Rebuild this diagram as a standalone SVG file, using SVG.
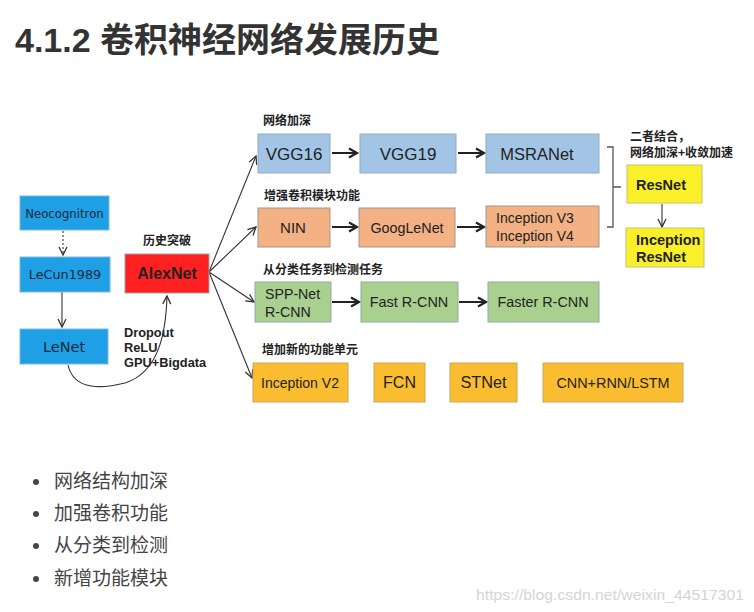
<svg xmlns="http://www.w3.org/2000/svg" width="754" height="612" viewBox="0 0 754 612">
<defs>
<marker id="v" markerUnits="userSpaceOnUse" markerWidth="12" markerHeight="12" refX="9" refY="5" orient="auto">
<path d="M1,1 L9,5 L1,9" fill="none" stroke="#333" stroke-width="1.3"/>
</marker>
<marker id="vb" markerUnits="userSpaceOnUse" markerWidth="14" markerHeight="14" refX="10" refY="6" orient="auto">
<path d="M2,1.5 L10,6 L2,10.5" fill="none" stroke="#222" stroke-width="2.2"/>
</marker>
</defs>
<style>
.lat{font-family:"Liberation Sans",Arial,sans-serif;fill:#222;text-anchor:middle}
.st{text-anchor:start}
.dv{font-family:"DejaVu Sans",Verdana,sans-serif;fill:#1a2a3a;text-anchor:middle}
.cjk{font-family:"Noto Sans CJK SC",sans-serif;font-weight:bold;font-size:12px;fill:#222}
.blue{fill:#1f9fe6;stroke:#7fb8dc;stroke-width:1}
.red{fill:#ff2121;stroke:#a0a0a0;stroke-width:1}
.r1{fill:#a2c5e6;stroke:#93a9c0;stroke-width:1}
.r2{fill:#f4b183;stroke:#a09890;stroke-width:1}
.r3{fill:#a9d08f;stroke:#95a8a8;stroke-width:1}
.r4{fill:#fbbd30;stroke:#c8a860;stroke-width:1}
.yl{fill:#f9f02a;stroke:#c8c070;stroke-width:1}
.thin{fill:none;stroke:#333;stroke-width:1.1}
.thick{fill:none;stroke:#222;stroke-width:2}
.bul{font-family:"Noto Sans CJK SC",sans-serif;font-size:19px;fill:#444}
</style>
<rect width="754" height="612" fill="#ffffff"/>
<text x="15" y="52" font-family="Liberation Sans,'Noto Sans CJK SC',sans-serif" font-weight="bold" font-size="34" fill="#333">4.1.2 <tspan font-family="Noto Sans CJK SC,sans-serif">卷积神经网络发展历史</tspan></text>

<g id="labels">
<text class="cjk" x="263" y="125">网络加深</text>
<text class="cjk" x="264" y="200">增强卷积模块功能</text>
<text class="cjk" x="263" y="274">从分类任务到检测任务</text>
<text class="cjk" x="262" y="354">增加新的功能单元</text>
<text class="cjk" x="143" y="245">历史突破</text>
<text class="cjk" x="630" y="141">二者结合，</text>
<text class="cjk" x="630" y="157">网络加深+收敛加速</text>
<text font-family="Liberation Sans,sans-serif" font-weight="bold" font-size="12.8" fill="#222" x="124" y="337">Dropout</text>
<text font-family="Liberation Sans,sans-serif" font-weight="bold" font-size="12.8" fill="#222" x="124" y="352">ReLU</text>
<text font-family="Liberation Sans,sans-serif" font-weight="bold" font-size="12.8" fill="#222" x="124" y="367">GPU+Bigdata</text>
</g>

<g id="connectors">
<line class="thin" x1="63" y1="231" x2="63" y2="255" stroke-dasharray="2,2" marker-end="url(#v)"/>
<line class="thin" x1="62" y1="292" x2="62" y2="327" marker-end="url(#v)"/>
<path class="thin" d="M68,365 C74,392 105,388 125,383 C160,372 166,330 167,296" marker-end="url(#v)"/>
<line class="thin" x1="209" y1="272" x2="256" y2="156" marker-end="url(#v)"/>
<line class="thin" x1="209" y1="272" x2="256" y2="227" marker-end="url(#v)"/>
<line class="thin" x1="209" y1="272" x2="254" y2="302" marker-end="url(#v)"/>
<line class="thin" x1="209" y1="272" x2="252" y2="378" marker-end="url(#v)"/>
<line class="thick" x1="332" y1="153" x2="357" y2="153" marker-end="url(#vb)"/>
<line class="thick" x1="458" y1="153" x2="484" y2="153" marker-end="url(#vb)"/>
<line class="thick" x1="332" y1="227" x2="357" y2="227" marker-end="url(#vb)"/>
<line class="thick" x1="457" y1="227" x2="484" y2="227" marker-end="url(#vb)"/>
<line class="thick" x1="332" y1="302" x2="359" y2="302" marker-end="url(#vb)"/>
<line class="thick" x1="459" y1="302" x2="486" y2="302" marker-end="url(#vb)"/>
<path d="M607,147 H613 V227 H607 M613,187 H621" fill="none" stroke="#555" stroke-width="1.3"/>
<line class="thin" x1="662" y1="204" x2="662" y2="227" marker-end="url(#v)"/>
</g>

<g id="neocognitron"><rect class="blue" x="20" y="196" width="89" height="34"/><text class="dv" x="64.5" y="217.5" font-size="11.7">Neocognitron</text></g>
<g id="lecun1989"><rect class="blue" x="20" y="257" width="90" height="35"/><text class="dv" x="65" y="279" font-size="12.8">LeCun1989</text></g>
<g id="lenet"><rect class="blue" x="20" y="329" width="88" height="35"/><text class="dv" x="64" y="352" font-size="14.5">LeNet</text></g>
<g id="alexnet"><rect class="red" x="125" y="254" width="84" height="39"/><text class="lat" x="167" y="279" font-size="16" font-weight="bold">AlexNet</text></g>

<g id="vgg16"><rect class="r1" x="258" y="134" width="72" height="39"/><text class="lat" x="294" y="160" font-size="17">VGG16</text></g>
<g id="vgg19"><rect class="r1" x="360" y="134" width="96" height="39"/><text class="lat" x="408" y="160" font-size="17">VGG19</text></g>
<g id="msranet"><rect class="r1" x="486" y="134" width="113" height="39"/><text class="lat" x="537" y="160" font-size="16.5">MSRANet</text></g>

<g id="nin"><rect class="r2" x="258" y="208" width="72" height="39"/><text class="lat" x="293" y="233" font-size="15">NIN</text></g>
<g id="googlenet"><rect class="r2" x="359" y="208" width="96" height="39"/><text class="lat" x="407" y="233" font-size="14.3">GoogLeNet</text></g>
<g id="inceptionv3v4"><rect class="r2" x="486" y="206" width="113" height="41"/><text class="lat st" x="496" y="223" font-size="14">Inception V3</text><text class="lat st" x="496" y="241" font-size="14">Inception V4</text></g>

<g id="sppnet"><rect class="r3" x="255" y="282" width="76" height="40"/><text class="lat st" x="265" y="299" font-size="14.2">SPP-Net</text><text class="lat st" x="265" y="317" font-size="14.2">R-CNN</text></g>
<g id="fastrcnn"><rect class="r3" x="361" y="282" width="97" height="40"/><text class="lat" x="409" y="307" font-size="14.4">Fast R-CNN</text></g>
<g id="fasterrcnn"><rect class="r3" x="488" y="282" width="111" height="40"/><text class="lat" x="543" y="307" font-size="14.4">Faster R-CNN</text></g>

<g id="inceptionv2"><rect class="r4" x="253" y="363" width="95" height="39"/><text class="lat" x="300" y="388" font-size="14">Inception V2</text></g>
<g id="fcn"><rect class="r4" x="374" y="363" width="51" height="39"/><text class="lat" x="399.5" y="388" font-size="16">FCN</text></g>
<g id="stnet"><rect class="r4" x="450" y="363" width="67" height="39"/><text class="lat" x="483.5" y="388" font-size="16.3">STNet</text></g>
<g id="cnnrnn"><rect class="r4" x="543" y="363" width="140" height="39"/><text class="lat" x="613" y="388" font-size="14.4">CNN+RNN/LSTM</text></g>

<g id="resnet"><rect class="yl" x="627" y="165" width="75" height="38"/><text class="lat st" x="636" y="190" font-size="14.5" font-weight="bold">ResNet</text></g>
<g id="inceptionresnet"><rect class="yl" x="626" y="228" width="78" height="39"/><text class="lat st" x="636" y="245" font-size="14.5" font-weight="bold">Inception</text><text class="lat st" x="636" y="262" font-size="14.5" font-weight="bold">ResNet</text></g>

<g id="bullets">
<circle cx="36" cy="482" r="3" fill="#444"/><text class="bul" x="54" y="488">网络结构加深</text>
<circle cx="36" cy="514" r="3" fill="#444"/><text class="bul" x="54" y="520">加强卷积功能</text>
<circle cx="36" cy="546" r="3" fill="#444"/><text class="bul" x="54" y="552">从分类到检测</text>
<circle cx="36" cy="579" r="3" fill="#444"/><text class="bul" x="54" y="585">新增功能模块</text>
</g>
<text x="476" y="600" font-family="Liberation Sans,sans-serif" font-size="15" fill="#d4d4d4" textLength="268" lengthAdjust="spacingAndGlyphs">https://blog.csdn.net/weixin_44517301</text>
</svg>
